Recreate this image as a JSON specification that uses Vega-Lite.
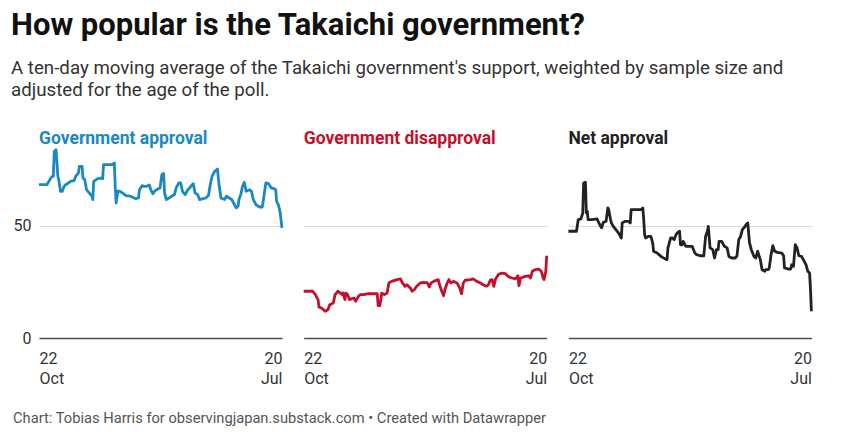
{
  "$schema": "https://vega.github.io/schema/vega-lite/v6.json",
  "background": "white",
  "padding": {"left": 11, "top": 9, "right": 5, "bottom": 5},
  "config": {
    "font": "Roboto",
    "view": {"stroke": null},
    "line": {"strokeWidth": 2.8, "strokeJoin": "round"},
    "axisX": {
      "labelFlush": true,
      "title": null,
      "ticks": false,
      "grid": false,
      "domainColor": "#4d4d4d",
      "domainWidth": 1.5,
      "labelFontSize": 16,
      "labelColor": "#333333",
      "labelLineHeight": 20,
      "labelPadding": 12
    },
    "axisY": {
      "title": null,
      "domain": false,
      "ticks": false,
      "gridColor": "#d9d9d9",
      "labelFontSize": 16,
      "labelColor": "#333333",
      "labelPadding": 8
    }
  },
  "datasets": {
    "approval": [
      {"date": "2025-10-22", "value": 68.3}, {"date": "2025-10-31", "value": 68.3}, {"date": "2025-11-02", "value": 69.7},
      {"date": "2025-11-05", "value": 71.7}, {"date": "2025-11-07", "value": 72.0}, {"date": "2025-11-08", "value": 83.1},
      {"date": "2025-11-10", "value": 83.8}, {"date": "2025-11-12", "value": 72.0}, {"date": "2025-11-13", "value": 70.5},
      {"date": "2025-11-15", "value": 65.3}, {"date": "2025-11-17", "value": 65.3}, {"date": "2025-11-19", "value": 67.5},
      {"date": "2025-11-21", "value": 68.3}, {"date": "2025-11-24", "value": 69.0}, {"date": "2025-11-26", "value": 69.7},
      {"date": "2025-11-30", "value": 70.0}, {"date": "2025-12-02", "value": 72.0}, {"date": "2025-12-05", "value": 73.5},
      {"date": "2025-12-06", "value": 76.4}, {"date": "2025-12-09", "value": 76.4}, {"date": "2025-12-10", "value": 71.2},
      {"date": "2025-12-12", "value": 70.5}, {"date": "2025-12-14", "value": 66.0}, {"date": "2025-12-17", "value": 64.6},
      {"date": "2025-12-20", "value": 63.1}, {"date": "2025-12-21", "value": 61.6}, {"date": "2025-12-22", "value": 69.7},
      {"date": "2025-12-26", "value": 70.8}, {"date": "2025-12-30", "value": 71.2}, {"date": "2026-01-01", "value": 70.8},
      {"date": "2026-01-02", "value": 77.2}, {"date": "2026-01-12", "value": 77.2}, {"date": "2026-01-14", "value": 77.9},
      {"date": "2026-01-15", "value": 67.5}, {"date": "2026-01-16", "value": 60.1}, {"date": "2026-01-18", "value": 65.3},
      {"date": "2026-01-20", "value": 65.3}, {"date": "2026-01-23", "value": 64.6}, {"date": "2026-01-27", "value": 63.4},
      {"date": "2026-02-01", "value": 63.1}, {"date": "2026-02-07", "value": 62.0}, {"date": "2026-02-10", "value": 62.3},
      {"date": "2026-02-11", "value": 66.0}, {"date": "2026-02-14", "value": 67.8}, {"date": "2026-02-16", "value": 67.5},
      {"date": "2026-02-19", "value": 67.5}, {"date": "2026-02-22", "value": 68.1}, {"date": "2026-02-24", "value": 65.7},
      {"date": "2026-02-26", "value": 64.2}, {"date": "2026-02-28", "value": 65.3}, {"date": "2026-03-02", "value": 66.0},
      {"date": "2026-03-06", "value": 66.8}, {"date": "2026-03-08", "value": 72.7}, {"date": "2026-03-10", "value": 73.2},
      {"date": "2026-03-11", "value": 64.6}, {"date": "2026-03-13", "value": 61.6}, {"date": "2026-03-16", "value": 62.3},
      {"date": "2026-03-20", "value": 63.4}, {"date": "2026-03-22", "value": 63.8}, {"date": "2026-03-24", "value": 66.8},
      {"date": "2026-03-27", "value": 69.0}, {"date": "2026-03-29", "value": 69.0}, {"date": "2026-03-31", "value": 65.3},
      {"date": "2026-04-03", "value": 63.8}, {"date": "2026-04-06", "value": 66.0}, {"date": "2026-04-08", "value": 66.8},
      {"date": "2026-04-11", "value": 68.3}, {"date": "2026-04-12", "value": 68.7}, {"date": "2026-04-14", "value": 64.6},
      {"date": "2026-04-17", "value": 63.8}, {"date": "2026-04-19", "value": 61.6}, {"date": "2026-04-22", "value": 61.9},
      {"date": "2026-04-26", "value": 62.3}, {"date": "2026-04-29", "value": 63.4}, {"date": "2026-05-01", "value": 68.3},
      {"date": "2026-05-03", "value": 72.0}, {"date": "2026-05-06", "value": 74.2}, {"date": "2026-05-09", "value": 75.2},
      {"date": "2026-05-11", "value": 67.5}, {"date": "2026-05-13", "value": 62.3}, {"date": "2026-05-17", "value": 61.6},
      {"date": "2026-05-19", "value": 63.1}, {"date": "2026-05-22", "value": 62.3}, {"date": "2026-05-25", "value": 61.6},
      {"date": "2026-05-28", "value": 59.3}, {"date": "2026-05-30", "value": 57.9}, {"date": "2026-06-01", "value": 58.6},
      {"date": "2026-06-02", "value": 61.6}, {"date": "2026-06-04", "value": 63.8}, {"date": "2026-06-06", "value": 67.5},
      {"date": "2026-06-08", "value": 69.3}, {"date": "2026-06-10", "value": 65.3}, {"date": "2026-06-14", "value": 66.0},
      {"date": "2026-06-16", "value": 65.3}, {"date": "2026-06-18", "value": 61.6}, {"date": "2026-06-21", "value": 59.3},
      {"date": "2026-06-25", "value": 58.3}, {"date": "2026-06-28", "value": 58.3}, {"date": "2026-06-29", "value": 60.8},
      {"date": "2026-07-02", "value": 69.0}, {"date": "2026-07-05", "value": 68.7}, {"date": "2026-07-08", "value": 66.8},
      {"date": "2026-07-11", "value": 66.5}, {"date": "2026-07-13", "value": 66.0}, {"date": "2026-07-14", "value": 60.8},
      {"date": "2026-07-16", "value": 59.3}, {"date": "2026-07-18", "value": 55.7}, {"date": "2026-07-20", "value": 49.0}
    ],
    "disapproval": [
      {"date": "2025-10-22", "value": 20.8}, {"date": "2025-11-01", "value": 20.8}, {"date": "2025-11-04", "value": 19.3},
      {"date": "2025-11-07", "value": 17.1}, {"date": "2025-11-08", "value": 13.8}, {"date": "2025-11-11", "value": 13.3},
      {"date": "2025-11-13", "value": 12.6}, {"date": "2025-11-15", "value": 11.9}, {"date": "2025-11-18", "value": 12.6},
      {"date": "2025-11-20", "value": 14.8}, {"date": "2025-11-24", "value": 15.6}, {"date": "2025-11-26", "value": 19.3},
      {"date": "2025-11-29", "value": 20.8}, {"date": "2025-12-02", "value": 20.0}, {"date": "2025-12-04", "value": 19.3},
      {"date": "2025-12-05", "value": 20.0}, {"date": "2025-12-07", "value": 17.1}, {"date": "2025-12-08", "value": 20.0},
      {"date": "2025-12-10", "value": 19.3}, {"date": "2025-12-12", "value": 17.1}, {"date": "2025-12-14", "value": 17.4},
      {"date": "2025-12-17", "value": 17.8}, {"date": "2025-12-19", "value": 16.3}, {"date": "2025-12-22", "value": 18.5},
      {"date": "2025-12-24", "value": 19.3}, {"date": "2025-12-28", "value": 19.3}, {"date": "2026-01-02", "value": 19.7},
      {"date": "2026-01-12", "value": 19.7}, {"date": "2026-01-13", "value": 14.4}, {"date": "2026-01-15", "value": 14.4},
      {"date": "2026-01-17", "value": 20.0}, {"date": "2026-01-20", "value": 19.3}, {"date": "2026-01-23", "value": 20.0},
      {"date": "2026-01-25", "value": 24.5}, {"date": "2026-01-28", "value": 25.2}, {"date": "2026-02-03", "value": 26.0},
      {"date": "2026-02-07", "value": 26.3}, {"date": "2026-02-09", "value": 24.5}, {"date": "2026-02-12", "value": 23.0},
      {"date": "2026-02-14", "value": 23.7}, {"date": "2026-02-18", "value": 22.2}, {"date": "2026-02-20", "value": 20.8},
      {"date": "2026-02-23", "value": 21.8}, {"date": "2026-02-25", "value": 23.0}, {"date": "2026-03-01", "value": 24.5},
      {"date": "2026-03-05", "value": 24.8}, {"date": "2026-03-09", "value": 24.5}, {"date": "2026-03-11", "value": 22.7},
      {"date": "2026-03-13", "value": 24.5}, {"date": "2026-03-16", "value": 25.2}, {"date": "2026-03-21", "value": 26.0},
      {"date": "2026-03-23", "value": 23.0}, {"date": "2026-03-25", "value": 20.8}, {"date": "2026-03-27", "value": 18.8},
      {"date": "2026-03-29", "value": 22.2}, {"date": "2026-03-31", "value": 24.5}, {"date": "2026-04-02", "value": 26.0},
      {"date": "2026-04-04", "value": 24.5}, {"date": "2026-04-07", "value": 25.2}, {"date": "2026-04-11", "value": 24.5},
      {"date": "2026-04-14", "value": 22.2}, {"date": "2026-04-16", "value": 19.7}, {"date": "2026-04-18", "value": 24.5},
      {"date": "2026-04-20", "value": 25.7}, {"date": "2026-04-26", "value": 26.0}, {"date": "2026-04-29", "value": 26.3},
      {"date": "2026-05-03", "value": 25.2}, {"date": "2026-05-07", "value": 24.5}, {"date": "2026-05-10", "value": 23.7},
      {"date": "2026-05-14", "value": 23.0}, {"date": "2026-05-16", "value": 23.7}, {"date": "2026-05-18", "value": 25.7},
      {"date": "2026-05-20", "value": 26.0}, {"date": "2026-05-22", "value": 23.0}, {"date": "2026-05-24", "value": 26.3},
      {"date": "2026-05-27", "value": 28.2}, {"date": "2026-05-31", "value": 28.9}, {"date": "2026-06-04", "value": 28.6},
      {"date": "2026-06-07", "value": 27.4}, {"date": "2026-06-11", "value": 26.7}, {"date": "2026-06-15", "value": 26.3},
      {"date": "2026-06-18", "value": 27.7}, {"date": "2026-06-19", "value": 23.3}, {"date": "2026-06-21", "value": 26.7},
      {"date": "2026-06-26", "value": 27.4}, {"date": "2026-06-30", "value": 27.7}, {"date": "2026-07-02", "value": 26.7},
      {"date": "2026-07-04", "value": 29.7}, {"date": "2026-07-07", "value": 30.4}, {"date": "2026-07-11", "value": 30.7},
      {"date": "2026-07-14", "value": 29.7}, {"date": "2026-07-16", "value": 26.7}, {"date": "2026-07-17", "value": 26.0},
      {"date": "2026-07-19", "value": 29.7}, {"date": "2026-07-20", "value": 36.6}
    ],
    "net": [
      {"date": "2025-10-22", "value": 47.5}, {"date": "2025-10-31", "value": 47.5}, {"date": "2025-11-02", "value": 52.7},
      {"date": "2025-11-05", "value": 53.0}, {"date": "2025-11-07", "value": 55.6}, {"date": "2025-11-08", "value": 69.0},
      {"date": "2025-11-10", "value": 69.3}, {"date": "2025-11-11", "value": 55.6}, {"date": "2025-11-12", "value": 56.4},
      {"date": "2025-11-13", "value": 52.7}, {"date": "2025-11-17", "value": 52.7}, {"date": "2025-11-23", "value": 53.0},
      {"date": "2025-11-25", "value": 51.2}, {"date": "2025-11-26", "value": 50.4}, {"date": "2025-11-28", "value": 49.0},
      {"date": "2025-11-30", "value": 51.5}, {"date": "2025-12-03", "value": 51.9}, {"date": "2025-12-05", "value": 57.9},
      {"date": "2025-12-06", "value": 57.1}, {"date": "2025-12-08", "value": 52.7}, {"date": "2025-12-09", "value": 51.2},
      {"date": "2025-12-11", "value": 49.7}, {"date": "2025-12-14", "value": 48.2}, {"date": "2025-12-17", "value": 46.7},
      {"date": "2025-12-19", "value": 45.2}, {"date": "2025-12-20", "value": 44.5}, {"date": "2025-12-21", "value": 51.2},
      {"date": "2025-12-24", "value": 51.9}, {"date": "2025-12-28", "value": 51.9}, {"date": "2025-12-30", "value": 51.2},
      {"date": "2025-12-31", "value": 57.1}, {"date": "2026-01-06", "value": 57.1}, {"date": "2026-01-11", "value": 57.1},
      {"date": "2026-01-13", "value": 57.9}, {"date": "2026-01-14", "value": 52.7}, {"date": "2026-01-15", "value": 46.0},
      {"date": "2026-01-16", "value": 44.5}, {"date": "2026-01-19", "value": 45.2}, {"date": "2026-01-22", "value": 45.2},
      {"date": "2026-01-24", "value": 42.3}, {"date": "2026-01-25", "value": 38.6}, {"date": "2026-01-29", "value": 37.8},
      {"date": "2026-01-31", "value": 37.1}, {"date": "2026-02-03", "value": 36.1}, {"date": "2026-02-07", "value": 35.2},
      {"date": "2026-02-09", "value": 34.9}, {"date": "2026-02-10", "value": 40.1}, {"date": "2026-02-11", "value": 41.5},
      {"date": "2026-02-13", "value": 44.5}, {"date": "2026-02-15", "value": 44.5}, {"date": "2026-02-17", "value": 43.8},
      {"date": "2026-02-19", "value": 46.0}, {"date": "2026-02-21", "value": 47.0}, {"date": "2026-02-23", "value": 47.5},
      {"date": "2026-02-24", "value": 41.5}, {"date": "2026-02-26", "value": 41.5}, {"date": "2026-02-27", "value": 43.0},
      {"date": "2026-03-02", "value": 40.8}, {"date": "2026-03-05", "value": 40.8}, {"date": "2026-03-09", "value": 40.8},
      {"date": "2026-03-12", "value": 37.8}, {"date": "2026-03-14", "value": 37.1}, {"date": "2026-03-18", "value": 36.6},
      {"date": "2026-03-22", "value": 36.6}, {"date": "2026-03-24", "value": 45.2}, {"date": "2026-03-26", "value": 47.5},
      {"date": "2026-03-27", "value": 49.7}, {"date": "2026-03-29", "value": 40.1}, {"date": "2026-04-01", "value": 39.3},
      {"date": "2026-04-03", "value": 35.6}, {"date": "2026-04-05", "value": 39.3}, {"date": "2026-04-07", "value": 39.3},
      {"date": "2026-04-08", "value": 43.0}, {"date": "2026-04-11", "value": 43.0}, {"date": "2026-04-14", "value": 40.8},
      {"date": "2026-04-17", "value": 40.1}, {"date": "2026-04-19", "value": 36.3}, {"date": "2026-04-22", "value": 35.6},
      {"date": "2026-04-26", "value": 35.6}, {"date": "2026-04-28", "value": 36.6}, {"date": "2026-04-30", "value": 43.8},
      {"date": "2026-05-02", "value": 45.2}, {"date": "2026-05-04", "value": 48.2}, {"date": "2026-05-07", "value": 49.7},
      {"date": "2026-05-08", "value": 50.4}, {"date": "2026-05-10", "value": 51.2}, {"date": "2026-05-12", "value": 42.3},
      {"date": "2026-05-14", "value": 39.3}, {"date": "2026-05-17", "value": 36.3}, {"date": "2026-05-19", "value": 35.6},
      {"date": "2026-05-21", "value": 38.6}, {"date": "2026-05-24", "value": 34.9}, {"date": "2026-05-26", "value": 30.4},
      {"date": "2026-05-29", "value": 29.7}, {"date": "2026-05-30", "value": 30.4}, {"date": "2026-06-02", "value": 30.4},
      {"date": "2026-06-03", "value": 31.2}, {"date": "2026-06-05", "value": 37.1}, {"date": "2026-06-07", "value": 41.1},
      {"date": "2026-06-09", "value": 38.6}, {"date": "2026-06-12", "value": 38.1}, {"date": "2026-06-17", "value": 37.8},
      {"date": "2026-06-19", "value": 36.6}, {"date": "2026-06-20", "value": 31.2}, {"date": "2026-06-24", "value": 30.7},
      {"date": "2026-06-27", "value": 30.7}, {"date": "2026-06-28", "value": 32.6}, {"date": "2026-06-30", "value": 31.9},
      {"date": "2026-07-02", "value": 41.5}, {"date": "2026-07-04", "value": 40.1}, {"date": "2026-07-06", "value": 36.6},
      {"date": "2026-07-09", "value": 36.3}, {"date": "2026-07-11", "value": 34.9}, {"date": "2026-07-14", "value": 32.6},
      {"date": "2026-07-16", "value": 29.7}, {"date": "2026-07-18", "value": 28.9}, {"date": "2026-07-19", "value": 21.5},
      {"date": "2026-07-20", "value": 11.9}
    ]
  },
  "title": {
    "text": "How popular is the Takaichi government?",
    "subtitle": ["A ten-day moving average of the Takaichi government's support, weighted by sample size and", "adjusted for the age of the poll."],
    "anchor": "start",
    "font": "Roboto",
    "fontSize": 31,
    "fontWeight": "bold",
    "color": "#111111",
    "dx": -2,
    "subtitleFont": "Roboto",
    "subtitleFontSize": 18.7,
    "subtitleColor": "#333333",
    "subtitleLineHeight": 22,
    "subtitlePadding": 17,
    "offset": 29
  },
  "vconcat": [
    {
      "title": {
        "text": "Chart: Tobias Harris for observingjapan.substack.com • Created with Datawrapper",
        "orient": "bottom",
        "anchor": "start",
        "font": "Roboto",
        "fontSize": 14.7,
        "fontWeight": "normal",
        "color": "#555555",
        "offset": 25
      },
      "spacing": 21.7,
      "bounds": "flush",
      "hconcat": [
        {
          "width": 243,
          "height": 191,
          "data": {"name": "approval"},
          "title": {"text": "Government approval", "anchor": "start", "frame": "group", "font": "Roboto", "fontSize": 17.5, "fontWeight": "bold", "color": "#1a89c2", "offset": 0},
          "mark": {"type": "line", "color": "#1a89c2"},
          "encoding": {
            "x": {
              "field": "date", "type": "temporal",
              "scale": {"type": "utc", "nice": false, "domain": [{"year": 2025, "month": 10, "date": 22, "utc": true}, {"year": 2026, "month": 7, "date": 20, "utc": true}]},
              "axis": {"values": [{"year": 2025, "month": 10, "date": 22, "utc": true}, {"year": 2026, "month": 7, "date": 20, "utc": true}], "labelExpr": "[utcFormat(datum.value, '%d'), utcFormat(datum.value, '%b')]"}
            },
            "y": {"field": "value", "type": "quantitative", "scale": {"domain": [0, 85], "nice": false}, "axis": {"values": [0, 50]}}
          }
        },
        {
          "width": 243,
          "height": 191,
          "data": {"name": "disapproval"},
          "title": {"text": "Government disapproval", "anchor": "start", "frame": "group", "font": "Roboto", "fontSize": 17.5, "fontWeight": "bold", "color": "#c5102c", "offset": 0},
          "mark": {"type": "line", "color": "#c5102c"},
          "encoding": {
            "x": {
              "field": "date", "type": "temporal",
              "scale": {"type": "utc", "nice": false, "domain": [{"year": 2025, "month": 10, "date": 22, "utc": true}, {"year": 2026, "month": 7, "date": 20, "utc": true}]},
              "axis": {"values": [{"year": 2025, "month": 10, "date": 22, "utc": true}, {"year": 2026, "month": 7, "date": 20, "utc": true}], "labelExpr": "[utcFormat(datum.value, '%d'), utcFormat(datum.value, '%b')]"}
            },
            "y": {"field": "value", "type": "quantitative", "scale": {"domain": [0, 85], "nice": false}, "axis": {"values": [0, 50], "labels": false, "labelPadding": 0, "minExtent": 0, "maxExtent": 0}}
          }
        },
        {
          "width": 243,
          "height": 191,
          "data": {"name": "net"},
          "title": {"text": "Net approval", "anchor": "start", "frame": "group", "font": "Roboto", "fontSize": 17.5, "fontWeight": "bold", "color": "#222222", "offset": 0},
          "mark": {"type": "line", "color": "#222222"},
          "encoding": {
            "x": {
              "field": "date", "type": "temporal",
              "scale": {"type": "utc", "nice": false, "domain": [{"year": 2025, "month": 10, "date": 22, "utc": true}, {"year": 2026, "month": 7, "date": 20, "utc": true}]},
              "axis": {"values": [{"year": 2025, "month": 10, "date": 22, "utc": true}, {"year": 2026, "month": 7, "date": 20, "utc": true}], "labelExpr": "[utcFormat(datum.value, '%d'), utcFormat(datum.value, '%b')]"}
            },
            "y": {"field": "value", "type": "quantitative", "scale": {"domain": [0, 85], "nice": false}, "axis": {"values": [0, 50], "labels": false, "labelPadding": 0, "minExtent": 0, "maxExtent": 0}}
          }
        }
      ]
    }
  ]
}
